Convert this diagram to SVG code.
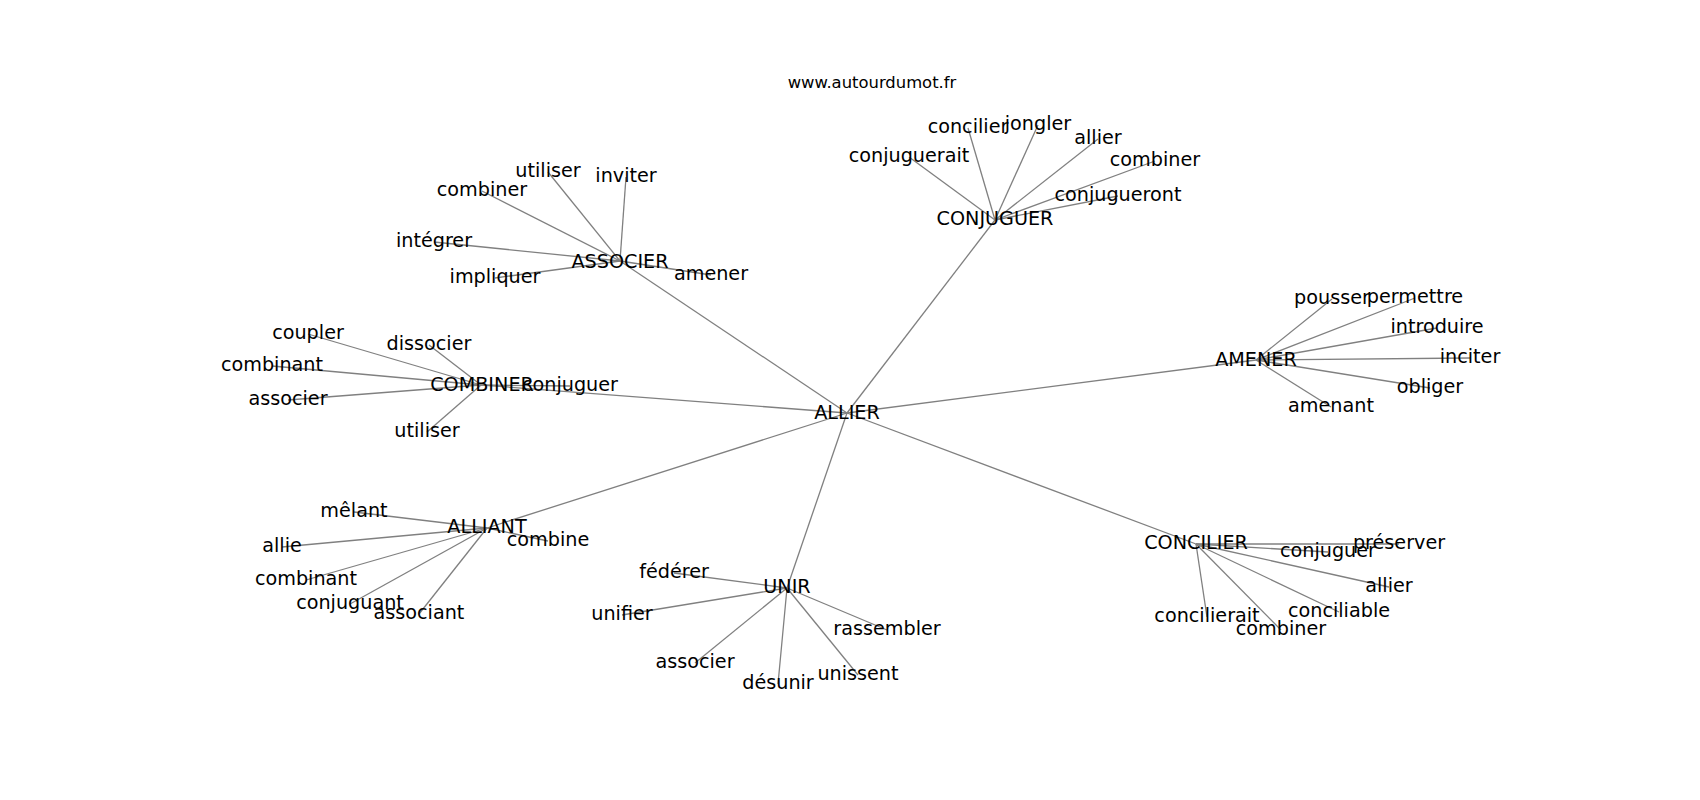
<svg xmlns="http://www.w3.org/2000/svg" width="1700" height="800" viewBox="0 0 1700 800">
<style>
text{font-family:"DejaVu Sans","Liberation Sans",sans-serif;fill:#000;text-anchor:middle}
.lbl{font-size:19.2px}
.title{font-size:16.4px}
#edges line{stroke:#808080;stroke-width:1.3}
</style>
<rect width="1700" height="800" fill="#fff"/>
<text class="title" x="872" y="88">www.autourdumot.fr</text>
<g id="edges">
<line x1="847" y1="413" x2="620" y2="261"/>
<line x1="847" y1="413" x2="995" y2="220"/>
<line x1="847" y1="413" x2="481" y2="385"/>
<line x1="847" y1="413" x2="1256" y2="360"/>
<line x1="847" y1="413" x2="487" y2="528"/>
<line x1="847" y1="413" x2="787" y2="588"/>
<line x1="847" y1="413" x2="1196" y2="544"/>
<line x1="620" y1="261" x2="548" y2="172"/>
<line x1="620" y1="261" x2="626" y2="177"/>
<line x1="620" y1="261" x2="482" y2="191"/>
<line x1="620" y1="261" x2="434" y2="242"/>
<line x1="620" y1="261" x2="495" y2="278"/>
<line x1="620" y1="261" x2="711" y2="275"/>
<line x1="995" y1="220" x2="968" y2="128"/>
<line x1="995" y1="220" x2="1038" y2="125"/>
<line x1="995" y1="220" x2="1098" y2="139"/>
<line x1="995" y1="220" x2="909" y2="157"/>
<line x1="995" y1="220" x2="1155" y2="161"/>
<line x1="995" y1="220" x2="1118" y2="196"/>
<line x1="1256" y1="360" x2="1332" y2="299"/>
<line x1="1256" y1="360" x2="1415" y2="298"/>
<line x1="1256" y1="360" x2="1437" y2="328"/>
<line x1="1256" y1="360" x2="1470" y2="358"/>
<line x1="1256" y1="360" x2="1430" y2="388"/>
<line x1="1256" y1="360" x2="1331" y2="407"/>
<line x1="481" y1="385" x2="308" y2="334"/>
<line x1="481" y1="385" x2="429" y2="345"/>
<line x1="481" y1="385" x2="272" y2="366"/>
<line x1="481" y1="385" x2="288" y2="400"/>
<line x1="481" y1="385" x2="570" y2="386"/>
<line x1="481" y1="385" x2="427" y2="432"/>
<line x1="487" y1="528" x2="354" y2="512"/>
<line x1="487" y1="528" x2="282" y2="547"/>
<line x1="487" y1="528" x2="548" y2="541"/>
<line x1="487" y1="528" x2="306" y2="580"/>
<line x1="487" y1="528" x2="350" y2="604"/>
<line x1="487" y1="528" x2="419" y2="614"/>
<line x1="787" y1="588" x2="674" y2="573"/>
<line x1="787" y1="588" x2="622" y2="615"/>
<line x1="787" y1="588" x2="887" y2="630"/>
<line x1="787" y1="588" x2="695" y2="663"/>
<line x1="787" y1="588" x2="778" y2="684"/>
<line x1="787" y1="588" x2="858" y2="675"/>
<line x1="1196" y1="544" x2="1399" y2="544"/>
<line x1="1196" y1="544" x2="1328" y2="552"/>
<line x1="1196" y1="544" x2="1389" y2="587"/>
<line x1="1196" y1="544" x2="1339" y2="612"/>
<line x1="1196" y1="544" x2="1207" y2="617"/>
<line x1="1196" y1="544" x2="1281" y2="630"/>
</g>
<g id="n-allier"><text class="lbl" x="847" y="419">ALLIER</text></g>
<g id="n-associer-hub"><text class="lbl" x="620" y="268">ASSOCIER</text></g>
<g id="n-conjuguer-hub"><text class="lbl" x="995" y="225">CONJUGUER</text></g>
<g id="n-combiner-hub"><text class="lbl" x="482" y="390.5">COMBINER</text></g>
<g id="n-amener-hub"><text class="lbl" x="1256" y="366">AMENER</text></g>
<g id="n-alliant"><text class="lbl" x="487" y="533">ALLIANT</text></g>
<g id="n-unir"><text class="lbl" x="787" y="592.5">UNIR</text></g>
<g id="n-concilier-hub"><text class="lbl" x="1196" y="549">CONCILIER</text></g>

<g id="n-as-utiliser"><text class="lbl" x="548" y="177">utiliser</text></g>
<g id="n-as-inviter"><text class="lbl" x="626" y="182">inviter</text></g>
<g id="n-as-combiner"><text class="lbl" x="482" y="196">combiner</text></g>
<g id="n-as-integrer"><text class="lbl" x="434" y="247">intégrer</text></g>
<g id="n-as-impliquer"><text class="lbl" x="495" y="283">impliquer</text></g>
<g id="n-as-amener"><text class="lbl" x="711" y="280">amener</text></g>

<g id="n-cj-concilier"><text class="lbl" x="968" y="133">concilier</text></g>
<g id="n-cj-jongler"><text class="lbl" x="1038" y="130">jongler</text></g>
<g id="n-cj-allier"><text class="lbl" x="1098" y="144">allier</text></g>
<g id="n-cj-conjuguerait"><text class="lbl" x="909" y="162">conjuguerait</text></g>
<g id="n-cj-combiner"><text class="lbl" x="1155" y="166">combiner</text></g>
<g id="n-cj-conjugueront"><text class="lbl" x="1118" y="201">conjugueront</text></g>

<g id="n-am-pousser"><text class="lbl" x="1332" y="304">pousser</text></g>
<g id="n-am-permettre"><text class="lbl" x="1415" y="303">permettre</text></g>
<g id="n-am-introduire"><text class="lbl" x="1437" y="333">introduire</text></g>
<g id="n-am-inciter"><text class="lbl" x="1470" y="363">inciter</text></g>
<g id="n-am-obliger"><text class="lbl" x="1430" y="393">obliger</text></g>
<g id="n-am-amenant"><text class="lbl" x="1331" y="412">amenant</text></g>

<g id="n-cb-coupler"><text class="lbl" x="308" y="339">coupler</text></g>
<g id="n-cb-dissocier"><text class="lbl" x="429" y="350">dissocier</text></g>
<g id="n-cb-combinant"><text class="lbl" x="272" y="371">combinant</text></g>
<g id="n-cb-associer"><text class="lbl" x="288" y="405">associer</text></g>
<g id="n-cb-conjuguer"><text class="lbl" x="570" y="391">conjuguer</text></g>
<g id="n-cb-utiliser"><text class="lbl" x="427" y="437">utiliser</text></g>

<g id="n-al-melant"><text class="lbl" x="354" y="517">mêlant</text></g>
<g id="n-al-allie"><text class="lbl" x="282" y="552">allie</text></g>
<g id="n-al-combine"><text class="lbl" x="548" y="546">combine</text></g>
<g id="n-al-combinant"><text class="lbl" x="306" y="585">combinant</text></g>
<g id="n-al-conjuguant"><text class="lbl" x="350" y="609">conjuguant</text></g>
<g id="n-al-associant"><text class="lbl" x="419" y="619">associant</text></g>

<g id="n-un-federer"><text class="lbl" x="674" y="578">fédérer</text></g>
<g id="n-un-unifier"><text class="lbl" x="622" y="620">unifier</text></g>
<g id="n-un-rassembler"><text class="lbl" x="887" y="635">rassembler</text></g>
<g id="n-un-associer"><text class="lbl" x="695" y="668">associer</text></g>
<g id="n-un-desunir"><text class="lbl" x="778" y="689">désunir</text></g>
<g id="n-un-unissent"><text class="lbl" x="858" y="680">unissent</text></g>

<g id="n-co-preserver"><text class="lbl" x="1399" y="549">préserver</text></g>
<g id="n-co-conjuguer"><text class="lbl" x="1328" y="557">conjuguer</text></g>
<g id="n-co-allier"><text class="lbl" x="1389" y="592">allier</text></g>
<g id="n-co-conciliable"><text class="lbl" x="1339" y="617">conciliable</text></g>
<g id="n-co-concilierait"><text class="lbl" x="1207" y="622">concilierait</text></g>
<g id="n-co-combiner"><text class="lbl" x="1281" y="635">combiner</text></g>
</svg>
